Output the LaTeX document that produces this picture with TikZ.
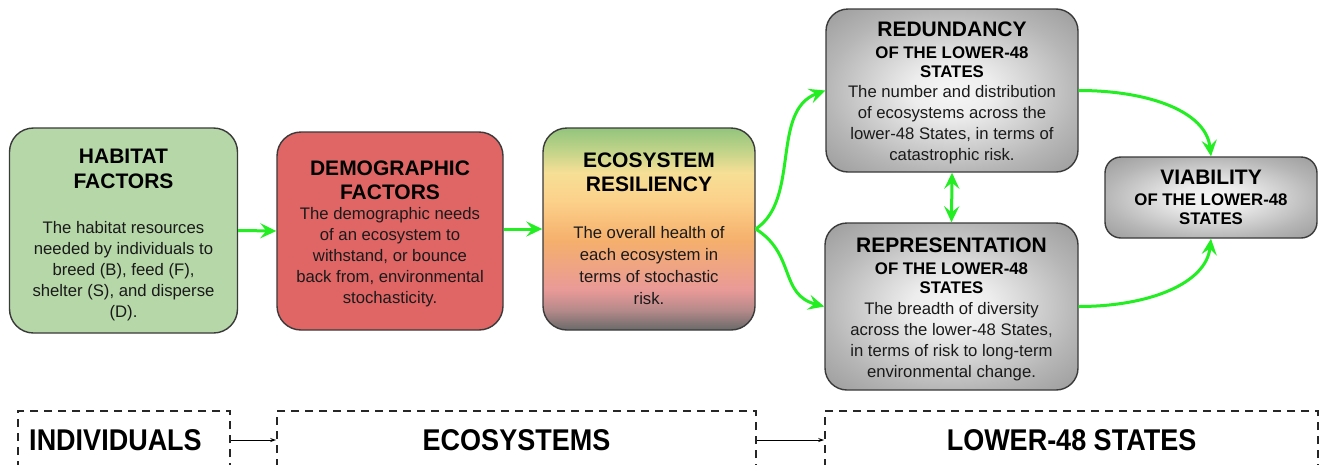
\documentclass[tikz,border=0pt]{standalone}
\usepackage{fontspec}
\setmainfont{Liberation Sans}
\usepackage{graphicx}
\usetikzlibrary{arrows.meta,calc}
\definecolor{habG}{HTML}{B6D7A8}
\definecolor{demR}{HTML}{E06666}
\definecolor{edgeC}{HTML}{3A3A3A}
\definecolor{arrG}{HTML}{22EE22}
\definecolor{txtC}{HTML}{1A1A1A}
\definecolor{ecoA}{HTML}{93C47D}
\definecolor{ecoA2}{HTML}{C4D58A}
\definecolor{ecoB}{HTML}{F6DF96}
\definecolor{ecoC}{HTML}{FCD18A}
\definecolor{ecoD}{HTML}{F5AF6C}
\definecolor{ecoE}{HTML}{E99A98}
\definecolor{ecoE2}{HTML}{B68A8A}
\definecolor{ecoF}{HTML}{6A6A6A}
\definecolor{gIn}{HTML}{F6F6F6}
\definecolor{gIn2}{HTML}{EDEDED}
\definecolor{gMid}{HTML}{B6B6B6}
\definecolor{gOut}{HTML}{9A9A9A}
\pgfdeclareverticalshading{ecoshade}{100bp}{color(0bp)=(ecoF); color(25bp)=(ecoF); color(30bp)=(ecoE2); color(35bp)=(ecoE); color(47bp)=(ecoD); color(57bp)=(ecoC); color(64bp)=(ecoB); color(69bp)=(ecoA2); color(75bp)=(ecoA); color(100bp)=(ecoA)}
\pgfdeclareradialshading{greyshade}{\pgfpoint{0bp}{0bp}}{color(0bp)=(gIn); color(8bp)=(gIn2); color(25bp)=(gMid); color(36bp)=(gOut); color(50bp)=(gOut)}
\tikzset{
  box/.style={draw=edgeC, line width=1.4pt, rounded corners=#1, inner sep=0pt},
  box/.default=22pt,
  gshade/.style={shading=greyshade},
  ttl/.style={font=\fontsize{21}{#1}\selectfont\bfseries, text=black, align=center, inner sep=0pt},
  ttl/.default=24,
  sub/.style={font=\fontsize{16.8}{#1}\selectfont\bfseries, text=black, align=center, inner sep=0pt},
  sub/.default=19,
  bod/.style={font=\fontsize{16.7}{#1}\selectfont, text=txtC, align=center, inner sep=0pt},
  bod/.default=21,
  dbox/.style={draw=black!85, line width=1.6pt, dash pattern=on 8pt off 6pt, inner sep=0pt},
  blab/.style={font=\fontsize{30}{32}\selectfont\bfseries, text=black, inner sep=0pt},
  garr/.style={draw=arrG, line width=3pt, -{Stealth[length=16pt,width=15pt,inset=6pt]}},
  barr/.style={draw=black, line width=1pt, -{Stealth[length=6pt,width=4pt]}}
}
\begin{document}
\begin{tikzpicture}[x=1pt,y=-1pt]
\useasboundingbox (0,0) rectangle (1322,464);
\fill[white] (0,0) rectangle (1322,464);

% HABITAT
\node[box=24pt, fill=habG, minimum width=228pt, minimum height=205pt] (hab) at (123.5,230.5) {};
\node[ttl=25] (habT) at (123.5,169) {HABITAT\\FACTORS};
\node[bod] (habB) at (123.5,271) {The habitat resources\\needed by individuals to\\breed (B), feed (F),\\shelter (S), and disperse\\(D).};

% DEMOGRAPHIC
\node[box=24pt, fill=demR, minimum width=226pt, minimum height=198pt] (dem) at (390,231) {};
\node[ttl=24] (demT) at (390,180) {DEMOGRAPHIC\\FACTORS};
\node[bod] (demB) at (390,257.5) {The demographic needs\\of an ecosystem to\\withstand, or bounce\\back from, environmental\\stochasticity.};

% ECOSYSTEM
\node[box=24pt, shading=ecoshade, minimum width=212pt, minimum height=202pt] (eco) at (649,229) {};
\node[ttl=24] (ecoT) at (649,172.5) {ECOSYSTEM\\RESILIENCY};
\node[bod=22] (ecoB) at (649,266) {The overall health of\\each ecosystem in\\terms of stochastic\\risk.};

% REDUNDANCY
\node[box=22pt, gshade, minimum width=252pt, minimum height=163pt] (red) at (952,90.5) {};
\node[ttl] (redT) at (952,29.5) {REDUNDANCY};
\node[sub] (redS) at (952,62) {OF THE LOWER-48\\STATES};
\node[bod] (redB) at (952,125) {The number and distribution\\of ecosystems across the\\lower-48 States, in terms of\\catastrophic risk.};

% REPRESENTATION
\node[box=22pt, gshade, minimum width=253pt, minimum height=167pt] (rep) at (951.5,306.5) {};
\node[ttl] (repT) at (951.5,245.5) {REPRESENTATION};
\node[sub] (repS) at (951.5,278) {OF THE LOWER-48\\STATES};
\node[bod] (repB) at (951.5,341.5) {The breadth of diversity\\across the lower-48 States,\\in terms of risk to long-term\\environmental change.};

% VIABILITY
\node[box=16pt, gshade, minimum width=212pt, minimum height=81pt] (via) at (1211,197.5) {};
\node[ttl] (viaT) at (1211,177.5) {VIABILITY};
\node[sub=19] (viaS) at (1211,209.5) {OF THE LOWER-48\\STATES};

% green connectors
\draw[garr] (hab.east) -- (dem.west);
\draw[garr] (dem.east |- eco.west) -- (eco.west);
\draw[garr] (eco.east) .. controls ($(eco.east)+(45,-30)$) and ($(red.west)+(-55,20)$) .. (red.west);
\draw[garr] (eco.east) .. controls ($(eco.east)+(40,25)$) and ($(rep.west)+(-45,-12)$) .. (rep.west);
\draw[garr, {Stealth[length=16pt,width=15pt,inset=6pt]}-{Stealth[length=16pt,width=15pt,inset=6pt]}] (red.south) -- (rep.north);
\draw[garr] (red.east) .. controls ($(red.east)+(70,0)$) and ($(via.north)+(-5,-45)$) .. (via.north);
\draw[garr] (rep.east) .. controls ($(rep.east)+(70,0)$) and ($(via.south)+(-5,45)$) .. (via.south);

% bottom scale boxes
\node[dbox, minimum width=212pt, minimum height=58pt] (ind) at (124,440) {};
\node[dbox, minimum width=479pt, minimum height=58pt] (ecs) at (516.5,440) {};
\node[dbox, minimum width=493pt, minimum height=58pt] (low) at (1071.5,440) {};
\node[blab] (indL) at (115.5,440) {\scalebox{0.9}[1]{INDIVIDUALS}};
\node[blab] (ecsL) at (516.5,440) {\scalebox{0.9}[1]{ECOSYSTEMS}};
\node[blab] (lowL) at (1071.5,440) {\scalebox{0.9}[1]{LOWER-48 STATES}};
\draw[barr] (ind.east) -- (ecs.west);
\draw[barr] (ecs.east) -- (low.west);
\end{tikzpicture}
\end{document}
